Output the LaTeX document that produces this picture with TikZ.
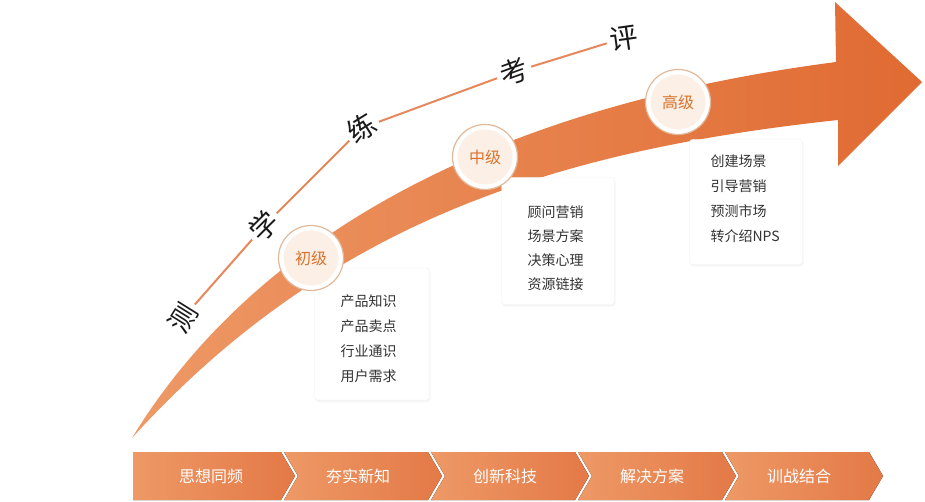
\documentclass[tikz,border=0pt]{standalone}
\usepackage{fontspec}
\setmainfont{Noto Sans CJK SC}
\usetikzlibrary{shadows}
\definecolor{orL}{HTML}{EE9966}
\definecolor{orD}{HTML}{E06A32}
\definecolor{ring}{HTML}{E2B89A}
\definecolor{cream}{HTML}{FBEFE6}
\definecolor{txtO}{HTML}{D9742F}
\tikzset{
 lvl/.style={circle,minimum size=60pt,inner sep=0pt,fill=cream,draw=white,line width=5pt,font=\fontsize{16}{16}\selectfont,text=txtO},
 ringline/.style={draw=ring,line width=1.2pt},
 card/.style={fill=white,draw=black!6,rounded corners=3pt,drop shadow={opacity=0.08,shadow xshift=1pt,shadow yshift=-2pt}},
 item/.style={font=\fontsize{14}{14}\selectfont,text=black!80,anchor=west},
 big/.style={font=\fontsize{28}{28}\selectfont,text=black!90},
 seg/.style={draw=orD!80,line width=2pt,shorten <=18pt,shorten >=18pt},
 chev/.style={left color=orL,right color=orD!90,draw=none},
 chevt/.style={font=\fontsize{16}{16}\selectfont,text=white}
}
\begin{document}
\begin{tikzpicture}[x=1pt,y=-1pt]
\useasboundingbox (0,0) rectangle (925,502);
% main arrow
\shade[left color=orL,right color=orD] (132,438)
 .. controls (210,310) and (390,120) .. (836,62) -- (835,2) -- (922,82) -- (838,166) -- (838,120)
 .. controls (560,150) and (330,220) .. (132,438) -- cycle;
% text along arc
\node[big,rotate=58] (c1) at (183,318) {测};
\node[big,rotate=45] (c2) at (264,226) {学};
\node[big,rotate=32] (c3) at (362,128) {练};
\node[big,rotate=20] (c4) at (514,72) {考};
\node[big,rotate=8] (c5) at (624,38) {评};
\draw[seg] (c1.center) -- (c2.center);
\draw[seg] (c2.center) -- (c3.center);
\draw[seg] (c3.center) -- (c4.center);
\draw[seg] (c4.center) -- (c5.center);
% cards
\node[card,minimum width=115pt,minimum height=132pt] (b1) at (372,334) {};
\node[card,minimum width=113pt,minimum height=127pt] (b2) at (558,241) {};
\node[card,minimum width=113pt,minimum height=125pt] (b3) at (746,202) {};
\foreach \t [count=\i] in {产品知识,产品卖点,行业通识,用户需求}
  \node[item] (p\i) at (337,276+25*\i) {\t};
\foreach \t [count=\i] in {顾问营销,场景方案,决策心理,资源链接}
  \node[item] (q\i) at (524,188+24*\i) {\t};
\foreach \t [count=\i] in {创建场景,引导营销,预测市场,转介绍NPS}
  \node[item] (r\i) at (707,136+25*\i) {\t};
% level circles
\node[lvl] (l1) at (311,258) {初级};
\node[lvl] (l2) at (485,157) {中级};
\node[lvl] (l3) at (678,102) {高级};
\foreach \n in {l1,l2,l3} \draw[ringline] (\n) circle (32.5pt);
% chevrons
\foreach \t [count=\i] in {思想同频,夯实新知,创新科技,解决方案,训战结合}{
  \pgfmathsetmacro{\xs}{133+147*(\i-1)}
  \ifnum\i=1
    \fill[chev] (\xs,452) -- (\xs+148,452) -- (\xs+162,476) -- (\xs+148,500) -- (\xs,500) -- cycle;
  \else
    \fill[chev] (\xs+4,452) -- (\xs+148,452) -- (\xs+162,476) -- (\xs+148,500) -- (\xs+4,500) -- (\xs+18,476) -- cycle;
  \fi
  \node[chevt] (k\i) at (\xs+78,476) {\t};
}
\end{tikzpicture}
\end{document}
